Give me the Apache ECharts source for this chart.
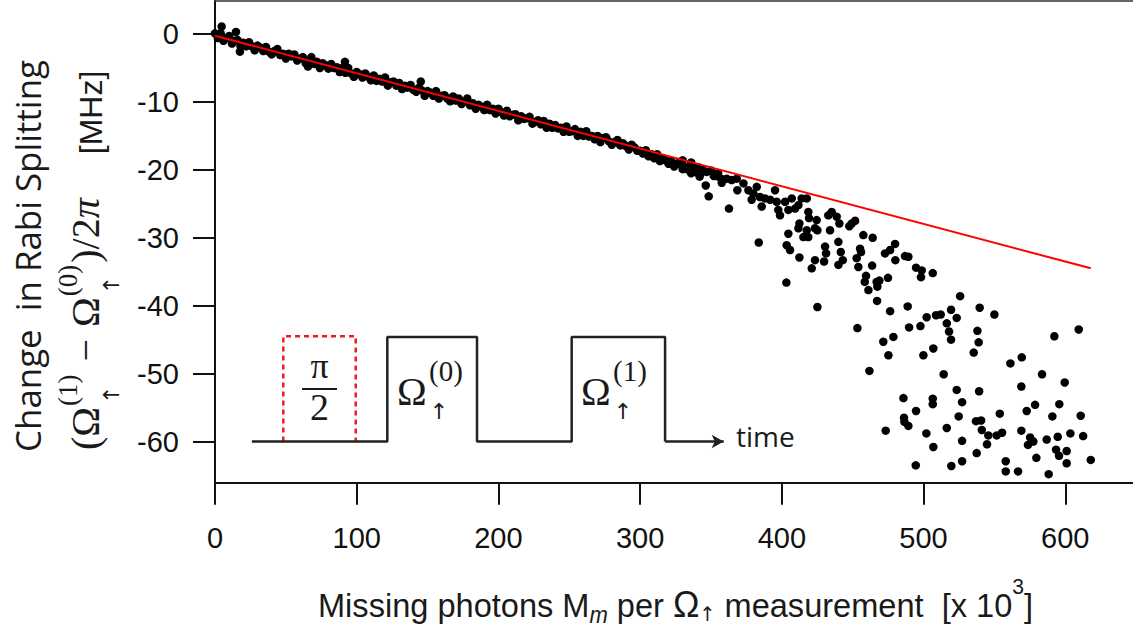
<!DOCTYPE html>
<html><head><meta charset="utf-8">
<script src="https://cdn.jsdelivr.net/npm/echarts@6/dist/echarts.min.js"></script>
<style>html,body{margin:0;padding:0;background:#fff}#c{width:1133px;height:627px}</style>
</head><body><div id="c"></div>
<script>
// ---------- data ----------
const xTicks = [0, 100, 200, 300, 400, 500, 600];
const yTicks = [0, -10, -20, -30, -40, -50, -60];

// dense band of measurements (x in 10^3 photons, y in MHz)
const bandX = [0,2,4,6,8,10,12,14,16,18,20,22,24,26,28,30,32,34,36,38,40,42,44,46,48,50,52,54,56,58,
  60,62,64,66,68,70,72,74,76,78,80,82,84,86,88,90,92,94,96,98,100,102,104,106,108,110,112,114,116,118,
  120,122,124,126,128,130,132,134,136,138,140,142,144,146,148,150,152,154,156,158,160,162,164,166,168,170,172,174,176,178,
  180,182,184,186,188,190,192,194,196,198,200,202,204,206,208,210,212,214,216,218,220,222,224,226,228,230,232,234,236,238,
  240,242,244,246,248,250,252,254,256,258,260,262,264,266,268,270,272,274,276,278,280,282,284,286,288,290,292,294,296,298,
  300,302,304,306,308,310,312,314,316,318,320,322,324,326,328,330,332,334,336,338,340,342,344];
const bandY = [0.1,-0.6,0.1,-1.0,-0.6,-0.3,-1.4,-1.0,-0.9,-1.8,
  -1.3,-1.8,-1.2,-1.8,-2.4,-1.7,-2.0,-2.5,-1.9,-2.6,
  -3.0,-2.5,-2.2,-3.1,-2.9,-3.6,-2.9,-3.3,-3.0,-3.9,
  -3.6,-3.4,-4.3,-4.1,-3.4,-4.4,-4.1,-5.0,-4.3,-4.6,
  -5.1,-4.4,-5.0,-4.9,-5.6,-5.0,-5.7,-5.0,-5.8,-6.3,
  -5.6,-5.9,-6.4,-5.8,-6.3,-6.8,-6.1,-6.9,-6.6,-7.0,
  -6.4,-7.6,-7.1,-7.0,-7.6,-7.2,-8.1,-7.6,-7.9,-7.5,
  -8.2,-8.5,-7.9,-8.3,-9.1,-8.4,-8.6,-9.1,-8.4,-9.5,
  -9.1,-9.0,-9.5,-9.9,-9.2,-9.8,-9.5,-10.3,-10.0,-9.5,
  -10.5,-10.2,-11.0,-10.4,-10.7,-11.2,-10.4,-11.2,-11.0,-11.7,
  -11.0,-11.5,-12.0,-11.3,-12.1,-11.9,-11.8,-12.7,-12.1,-12.5,
  -12.4,-12.2,-13.2,-12.9,-12.7,-13.3,-12.8,-13.8,-13.2,-13.8,
  -13.4,-13.9,-13.8,-14.4,-13.6,-14.4,-14.3,-14.0,-15.0,-14.4,
  -15.0,-14.3,-15.1,-15.0,-15.5,-15.0,-15.9,-15.3,-15.2,-15.8,
  -16.3,-15.9,-15.6,-16.4,-16.1,-16.5,-17.0,-16.3,-16.7,-17.2,
  -17.2,-17.6,-17.1,-18.0,-17.7,-18.3,-17.7,-18.7,-18.3,-18.6,
  -19.1,-18.7,-19.5,-19.1,-18.8,-19.9,-19.6,-20.0,-20.5,-19.7,
  -20.4,-21.0,-20.3];

// isolated points in the band region
const extraX = [4.7,14.8,17.6,65.6,91.7,145.2,330,336,341,344,347,350,352,355,358];
const extraY = [1.1,0.3,-2.6,-4.8,-4.1,-7.0,-18.6,-18.9,-19.6,-19.9,-20.3,-20.1,-20.9,-20.5,-21.4];

// scattered points at large photon numbers
const tailX = [346.3,348.4,362.7,383.7,403.2,355.2,357.6,361.1,364.6,368.2,368.6,372.9,376.4,378.7,379.9,382.3,384.6,385.8,388.1,391.7,
  395.2,396.4,397.5,398.7,402.3,404.6,407.0,409.3,411.7,414.0,417.6,418.7,419.2,424.6,425.1,423.4,417.6,418.7,415.2,411.7,
  412.4,404.6,403.4,405.8,412.4,421.1,423.4,429.8,430.5,431.2,434.0,432.8,435.2,438.7,440.6,439.9,441.6,443.0,439.9,447.6,
  449.3,451.7,452.8,454.0,455.2,455.9,457.5,464.1,463.7,459.4,458.5,461.1,466.9,468.8,467.4,474.9,479.9,476.4,472.8,480.1,
  486.9,489.3,494.7,498.7,498.2,506.5,525.8,
  425.1,467.2,476.4,488.8,453.3,471.6,478.7,475.2,461.8,489.8,497.8,502.2,508.8,512.1,519.4,523.4,516.4,518.0,519.4,506.9,
  499.9,514.2,539.6,550.0,538.0,538.9,535.4,561.3,569.3,592.3,609.5,583.6,599.6,569.0,485.8,506.5,506.5,494.7,486.2,486.5,
  489.3,473.3,502.0,506.9,516.4,523.4,527.2,524.8,539.2,537.0,540.6,541.1,545.7,551.6,555.4,553.8,569.0,572.8,578.7,575.2,
  577.5,573.7,586.9,590.9,595.8,594.7,603.6,610.9,612.6,601.0,593.5,595.6,579.6,601.0,618.0,527.2,544.8,537.5,527.2,519.6,
  494.5,558.0,558.0,566.7,588.3];
const tailY = [-22.3,-23.9,-25.7,-30.7,-36.6,-21.0,-21.9,-21.3,-21.5,-21.3,-23.0,-22.0,-23.0,-24.4,-23.5,-22.5,-24.0,-25.4,-24.2,-24.4,
  -23.0,-24.7,-25.9,-26.7,-24.7,-25.9,-24.2,-25.7,-25.2,-24.2,-24.2,-26.2,-27.1,-27.4,-28.9,-28.6,-28.9,-29.9,-29.9,-28.6,
  -27.9,-29.4,-31.1,-31.8,-32.9,-34.5,-33.3,-33.5,-31.3,-32.3,-28.9,-26.7,-26.2,-26.9,-27.9,-30.6,-32.1,-33.3,-34.0,-28.3,
  -27.9,-27.5,-33.0,-34.3,-31.6,-32.1,-29.6,-30.0,-34.1,-35.6,-36.5,-37.7,-36.5,-36.3,-37.2,-35.9,-30.9,-31.8,-32.3,-33.3,
  -32.7,-32.8,-34.4,-34.8,-35.8,-35.2,-38.6,
  -40.2,-39.3,-40.8,-40.1,-43.3,-45.3,-44.6,-47.3,-49.6,-43.2,-43.0,-41.7,-41.4,-41.3,-40.6,-41.8,-42.6,-43.8,-45.0,-46.3,
  -47.3,-50.1,-40.3,-41.3,-43.7,-45.4,-46.9,-48.5,-47.6,-44.5,-43.5,-50.1,-51.3,-51.9,-53.6,-53.7,-54.5,-55.5,-56.5,-57.1,
  -57.7,-58.4,-58.8,-60.8,-58.0,-52.4,-54.2,-56.3,-52.6,-57.0,-56.9,-58.3,-59.1,-59.1,-58.7,-55.9,-58.4,-55.5,-54.6,-59.4,
  -60.0,-60.5,-59.7,-56.3,-54.5,-59.3,-58.8,-56.2,-59.2,-61.4,-61.2,-62.1,-62.4,-63.2,-62.7,-59.9,-60.4,-61.7,-62.9,-63.6,
  -63.5,-62.9,-64.4,-64.4,-64.8];

// linear fit
const fitX = [0, 618];
const fitY = [-0.25, -34.5];

// inset pulse-sequence sketch (drawn in data coordinates)
const pulseX = [26, 121.6, 121.6, 184.9, 184.9, 251.7, 251.7, 317.6, 317.6];
const pulseY = [-60, -60, -44.6, -44.6, -60, -60, -44.6, -44.6, -60];
const arrowX = [317.6, 359];
const arrowY = [-60, -60];
const halfPiX = [48.2, 48.2, 99.3, 99.3];
const halfPiY = [-60, -44.5, -44.5, -60];

// ---------- helpers ----------
const zip = (a, b) => a.map((v, i) => [v, b[i]]);
const SERIF = "'Liberation Serif', 'DejaVu Serif', serif";
const SANS = "'Liberation Sans', Arial, sans-serif";
const HUM = "'Open Sans', 'Noto Sans', sans-serif";
const ARR = "'DejaVu Sans', 'DejaVu Serif', sans-serif";
const INK = '#1a1a1a';
const mctx = document.createElement('canvas').getContext('2d');
function tw(t, f, fam, st, wt) { mctx.font = (st || 'normal') + ' ' + (wt || 'normal') + ' ' + f + 'px ' + fam; return mctx.measureText(t).width; }
function txt(q, x, y) {
  return { type: 'text', x: x, y: y, silent: true, z: 100,
    style: { text: q.t, fontSize: q.f, fontFamily: q.fam, fontStyle: q.st || 'normal', fontWeight: q.wt || 'normal',
      fill: INK, align: q.align || 'left', verticalAlign: 'middle' } };
}
// sequential layout along a baseline; c = em-middle offset from baseline
function row(pieces) {
  let x = 0; const out = [];
  for (const p of pieces) {
    x += p.gb || 0;
    if (p.stack) {
      let mw = 0;
      for (const q of p.stack) { out.push(txt(q, x + (q.dx || 0), q.c)); mw = Math.max(mw, tw(q.t, q.f, q.fam, q.st, q.wt) + (q.dx || 0)); }
      x += mw;
    } else {
      out.push(txt(p, x, p.c !== undefined ? p.c : -0.34 * p.f));
      x += tw(p.t, p.f, p.fam, p.st, p.wt);
    }
    x += p.ga || 0;
  }
  return { children: out, width: x };
}

// y-axis title line 2: (Ω↑(1) − Ω↑(0))/2π  [MHz]
const F = 40, S = 27;
const yRow = row([
  { t: '(', f: F, fam: SERIF },
  { t: 'Ω', f: F, fam: SERIF, ga: 1 },
  { stack: [{ t: '(1)', f: S, fam: SERIF, c: -31 }, { t: '↑', f: 22, fam: ARR, c: 12, dx: 2 }], ga: 3 },
  { t: '−', f: F, fam: SERIF, gb: 10, ga: 12 },
  { t: 'Ω', f: F, fam: SERIF, ga: 1 },
  { stack: [{ t: '(0)', f: S, fam: SERIF, c: -31 }, { t: '↑', f: 22, fam: ARR, c: 12, dx: 2 }], ga: 2 },
  { t: ')', f: F, fam: SERIF },
  { t: '/', f: F, fam: SERIF },
  { t: '2', f: F, fam: SERIF },
  { t: 'π', f: F, fam: SERIF, st: 'italic' },
  { t: '[MHz]', f: 32, fam: SANS, gb: 44, c: -8 }
]);
// x-axis title
const XF = 34;
const xRow = row([
  { t: 'Missing photons M', f: XF, fam: SANS },
  { t: 'm', f: 23, fam: SANS, st: 'italic', c: -1 },
  { t: ' per ', f: XF, fam: SANS },
  { t: 'Ω', f: 37, fam: SANS },
  { t: '↑', f: 20, fam: ARR, c: -2 },
  { t: ' measurement  [x 10', f: XF, fam: SANS },
  { t: '3', f: 22, fam: SANS, c: -30 },
  { t: ']', f: XF, fam: SANS }
]);
const xTitleW = 715, xsx = xTitleW / xRow.width;
const line1 = 'Change  in Rabi Splitting';
const l1f = 36 * 392 / tw(line1, 36, HUM);

const graphics = [
  { type: 'group', x: 27, y: 256, rotation: Math.PI / 2, children: [txt({ t: line1, f: l1f, fam: HUM, align: 'center' }, 0, 0)] },
  { type: 'group', x: 99, y: 450, rotation: Math.PI / 2, children: yRow.children },
  { type: 'group', x: 675.5 - xTitleW / 2, y: 616.7, scaleX: xsx, children: xRow.children },
  // inset labels
  txt({ t: 'π', f: 36, fam: SERIF, align: 'center' }, 319.5, 366),
  { type: 'line', silent: true, z: 100, shape: { x1: 302, y1: 389, x2: 337, y2: 389 }, style: { stroke: INK, lineWidth: 2 } },
  txt({ t: '2', f: 38, fam: SERIF, align: 'center' }, 319.5, 407),
  txt({ t: 'Ω', f: 40, fam: SERIF }, 397, 391),
  txt({ t: '(0)', f: 29, fam: SERIF }, 429, 371),
  txt({ t: '↑', f: 22, fam: ARR, align: 'center' }, 439, 411),
  txt({ t: 'Ω', f: 40, fam: SERIF }, 581, 391),
  txt({ t: '(1)', f: 29, fam: SERIF }, 613, 371),
  txt({ t: '↑', f: 22, fam: ARR, align: 'center' }, 623, 411),
  txt({ t: 'time', f: 28, fam: HUM }, 736, 436)
];

const chart = echarts.init(document.getElementById('c'), null, { renderer: 'svg' });
chart.setOption({
  animation: false,
  backgroundColor: '#fff',
  grid: { left: 215, right: 0, top: 1, bottom: 144.3, containLabel: false },
  xAxis: [{
    type: 'value', min: 0, max: 647.8, position: 'bottom',
    axisLine: { show: true, onZero: false, lineStyle: { color: '#111', width: 2 } },
    axisTick: { show: true, length: 22, customValues: xTicks, lineStyle: { color: '#111', width: 2 } },
    axisLabel: { customValues: xTicks, fontSize: 29, fontFamily: SANS, color: '#111', margin: 41 },
    splitLine: { show: false }
  }, {
    type: 'value', min: 0, max: 647.8, position: 'top',
    axisLine: { show: true, onZero: false, lineStyle: { color: '#333', width: 1.5 } },
    axisTick: { show: false }, axisLabel: { show: false }, splitLine: { show: false }
  }],
  yAxis: {
    type: 'value', min: -66.06, max: 4.86,
    axisLine: { show: true, onZero: false, lineStyle: { color: '#111', width: 2 } },
    axisTick: { show: true, length: 22, customValues: yTicks, lineStyle: { color: '#111', width: 2 } },
    axisLabel: { customValues: yTicks, fontSize: 29, fontFamily: SANS, color: '#111', margin: 36 },
    splitLine: { show: false }
  },
  series: [
    { type: 'scatter', data: zip(bandX, bandY).concat(zip(extraX, extraY), zip(tailX, tailY)),
      symbol: 'circle', symbolSize: 8.5, itemStyle: { color: '#000', opacity: 1 }, z: 2, silent: true },
    { type: 'line', data: zip(fitX, fitY), showSymbol: false, symbol: 'none',
      lineStyle: { color: '#ff0000', width: 2 }, z: 4, silent: true },
    { type: 'line', data: zip(halfPiX, halfPiY), showSymbol: false, symbol: 'none',
      lineStyle: { color: '#ed1c24', width: 2.5, type: [5, 4] }, z: 3, silent: true },
    { type: 'line', data: zip(pulseX, pulseY), showSymbol: false, symbol: 'none',
      lineStyle: { color: '#222', width: 2.5 }, z: 3, silent: true,
      markLine: { silent: true, symbol: ['none', 'arrow'], symbolSize: [10, 12],
        lineStyle: { color: '#222', width: 2.5, type: 'solid' }, label: { show: false },
        data: [[{ coord: [arrowX[0], arrowY[0]] }, { coord: [arrowX[1], arrowY[1]] }]] } }
  ],
  graphic: graphics
});
</script>
</body></html>
